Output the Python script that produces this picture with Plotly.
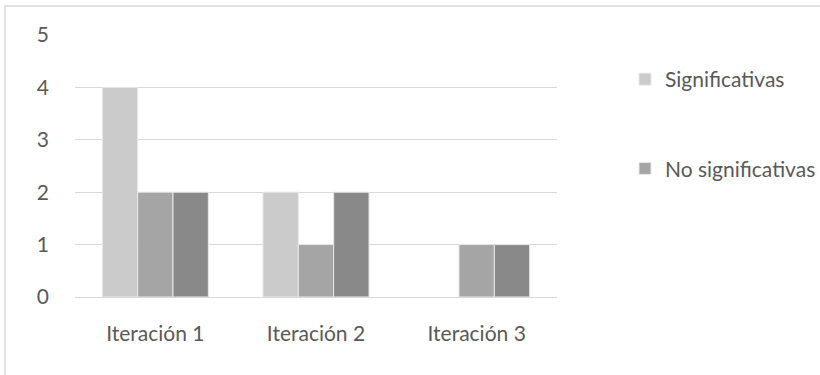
import plotly.graph_objects as go

# Category labels and series values
categories = ["Iteración 1", "Iteración 2", "Iteración 3"]
significativas = [4, 2, 0]
no_significativas = [2, 1, 1]
serie_3 = [2, 2, 1]

colors = ["#CBCBCB", "#A5A5A5", "#898989"]
text_color = "#595959"
font_family = "Lato, 'Open Sans', sans-serif"

fig = go.Figure()
for name, vals, col, show, grp in [
    ("Significativas", significativas, colors[0], True, "a"),
    ("No significativas", no_significativas, colors[1], True, "b"),
    ("Serie 3", serie_3, colors[2], False, "c"),
]:
    # no outline on empty bars so a zero value leaves no trace
    widths = [1 if v > 0 else 0 for v in vals]
    fig.add_trace(go.Bar(
        x=categories, y=vals, name=name, showlegend=show, legendgroup=grp,
        marker=dict(color=col, line=dict(color="#E8E8E8", width=widths)),
    ))

W, H = 820, 375
L, R, T, B = 75, 557, 35, 297
pw, ph = R - L, B - T

fig.update_layout(
    width=W, height=H,
    margin=dict(l=L, r=W - R, t=T, b=H - B, autoexpand=False),
    paper_bgcolor="white", plot_bgcolor="white",
    barmode="group", bargap=0.34, bargroupgap=0,
    font=dict(family=font_family, size=21, color=text_color),
    showlegend=True,
    legend=dict(
        xref="container", yref="container",
        x=625 / W, xanchor="left",
        y=1 - 59 / H, yanchor="top",
        font=dict(size=21, color=text_color),
        tracegroupgap=59, itemwidth=30,
        bgcolor="rgba(0,0,0,0)",
    ),
    xaxis=dict(
        showgrid=False, showline=False, ticks="",
        ticklabelstandoff=22,
        tickfont=dict(size=21, color=text_color),
    ),
    yaxis=dict(
        range=[0, 5], dtick=1, showgrid=True, gridcolor="#D9D9D9", gridwidth=1,
        zeroline=True, zerolinecolor="#D9D9D9", zerolinewidth=1,
        showline=False, ticks="", ticklabelstandoff=25,
        tickfont=dict(size=21, color=text_color),
    ),
    shapes=[dict(
        type="rect", xref="paper", yref="paper",
        x0=(5 - L) / pw, x1=(W + 60 - L) / pw,
        y0=(B - (H + 60)) / ph, y1=(B - 6) / ph,
        line=dict(color="#D9D9D9", width=1.5), fillcolor="rgba(0,0,0,0)",
        layer="below",
    )],
)

fig.write_html("out.html")
